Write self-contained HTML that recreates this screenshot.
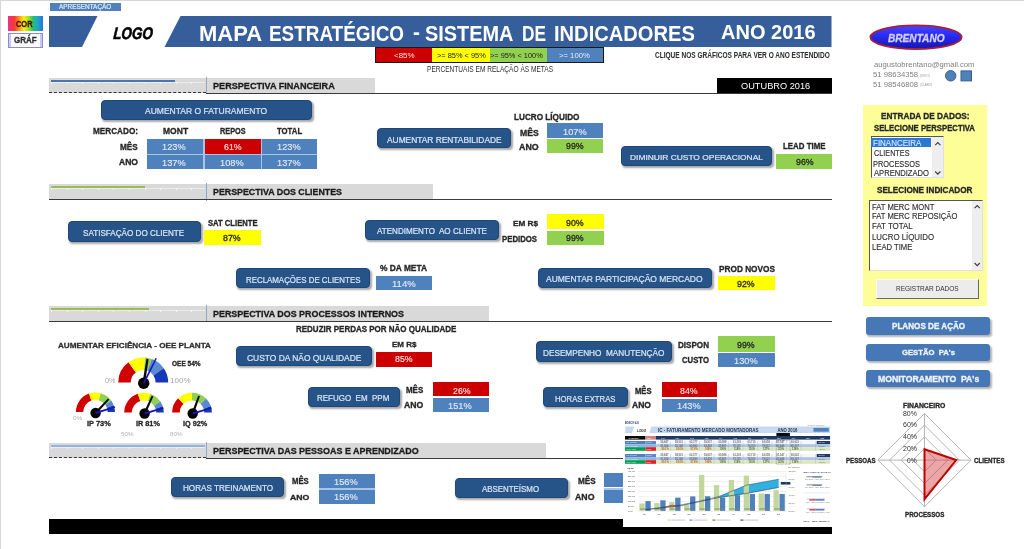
<!DOCTYPE html>
<html lang="pt"><head><meta charset="utf-8"><title>Mapa Estratégico - Sistema de Indicadores</title>
<style>
html,body{margin:0;padding:0;background:#fff;}
body{width:1024px;height:549px;overflow:hidden;position:relative;font-family:'Liberation Sans', Arial, sans-serif;filter:blur(0.3px);}
.a{position:absolute;}
.t{position:absolute;white-space:pre;line-height:1;transform-origin:0 0;font-family:'Liberation Sans', Arial, sans-serif;}
svg{position:absolute;overflow:visible;}
</style></head><body>
<div class="a" style="left:0.00px;top:0.00px;width:1024.00px;height:1.00px;background:#d6d6d6;"></div>
<div class="a" style="left:0.00px;top:0.00px;width:1.00px;height:549.00px;background:#d6d6d6;"></div>
<div class="a" style="left:50.00px;top:3.00px;width:71.00px;height:8.00px;background:#4f81bd;"></div>
<div class="t" style="left:59.25px;top:2.66px;font-size:7.41px;font-weight:normal;color:#e4ecf8;transform:scaleX(0.8664);-webkit-text-stroke:0.2px #e4ecf8;">APRESENTAÇÃO</div>
<div class="a" style="left:8px;top:16px;width:34.5px;height:14.5px;background:linear-gradient(90deg,#f0308a 0%,#f5392e 18%,#ff9a1a 33%,#ffee10 45%,#a6e020 58%,#25c070 72%,#1fa8c8 84%,#2a70e0 100%);"></div>
<div class="t" style="left:16.28px;top:21.03px;font-size:8.25px;font-weight:bold;color:#3a1600;transform:scaleX(0.8993);-webkit-text-stroke:0.3px #3a1600;">COR</div>
<div class="a" style="left:8px;top:33px;width:34.5px;height:14.5px;box-sizing:border-box;border:1px solid #8c8cc8;background:#fafaff;"></div>
<div class="a" style="left:9.00px;top:34.00px;width:2.00px;height:12.50px;background:#c8c8f0;"></div>
<div class="a" style="left:39.50px;top:34.00px;width:2.00px;height:12.50px;background:#c8c8f0;"></div>
<div class="t" style="left:13.76px;top:36.41px;font-size:8.39px;font-weight:bold;color:#303030;transform:scaleX(0.9537);-webkit-text-stroke:0.3px #303030;">GRÁF</div>
<svg width="1024" height="60" style="left:0;top:0"><polygon points="49,16 97.5,16 82,47 49,47" fill="#365e9a"/><polygon points="180.5,16 831.5,16 831.5,47 164.5,47" fill="#365e9a"/></svg>
<div class="t" style="left:113.74px;top:25.83px;font-size:16.78px;font-weight:bold;font-style:italic;color:#000;transform:scaleX(0.8009) skewX(-6.0deg);-webkit-text-stroke:0.6px #000;">LOGO</div>
<div class="t" style="left:198.97px;top:23.53px;font-size:21.40px;font-weight:bold;color:#ffffff;transform:scaleX(1.0265);">MAPA</div>
<div class="t" style="left:268.62px;top:23.53px;font-size:21.40px;font-weight:bold;color:#ffffff;transform:scaleX(0.8831);">ESTRATÉGICO</div>
<div class="t" style="left:424.99px;top:23.53px;font-size:21.40px;font-weight:bold;color:#ffffff;transform:scaleX(0.9306);">SISTEMA</div>
<div class="t" style="left:522.16px;top:23.53px;font-size:21.40px;font-weight:bold;color:#ffffff;transform:scaleX(0.8098);">DE</div>
<div class="t" style="left:554.07px;top:23.53px;font-size:21.40px;font-weight:bold;color:#ffffff;transform:scaleX(0.9402);">INDICADORES</div>
<div class="t" style="left:412.90px;top:22.09px;font-size:21.40px;font-weight:bold;color:#ffffff;transform:scaleX(0.9714);">-</div>
<div class="t" style="left:720.73px;top:23.47px;font-size:19.86px;font-weight:bold;color:#ffffff;transform:scaleX(1.0080);">ANO 2016</div>
<div class="a" style="left:375.00px;top:47.00px;width:229.00px;height:16.00px;background:#1a1a1a;"></div>
<div class="a" style="left:376.00px;top:48.00px;width:55.50px;height:14.00px;background:#cc0000;"></div>
<div class="a" style="left:431.50px;top:48.00px;width:58.50px;height:14.00px;background:#ffff00;"></div>
<div class="a" style="left:490.00px;top:48.00px;width:56.50px;height:14.00px;background:#92d050;"></div>
<div class="a" style="left:546.50px;top:48.00px;width:56.50px;height:14.00px;background:#4f81bd;"></div>
<div class="t" style="left:393.75px;top:52.12px;font-size:7.41px;font-weight:normal;color:#ffe0e0;transform:scaleX(1.0745);">&lt;85%</div>
<div class="t" style="left:436.67px;top:52.12px;font-size:7.41px;font-weight:normal;color:#202020;transform:scaleX(0.9992);">&gt;= 85% &lt; 95%</div>
<div class="t" style="left:490.20px;top:52.12px;font-size:7.41px;font-weight:normal;color:#202020;transform:scaleX(0.9959);">&gt;= 95% &lt; 100%</div>
<div class="t" style="left:558.66px;top:52.12px;font-size:7.41px;font-weight:normal;color:#e8eef8;transform:scaleX(1.0377);">&gt;= 100%</div>
<div class="t" style="left:426.75px;top:65.95px;font-size:8.25px;font-weight:normal;color:#303030;transform:scaleX(0.7958);">PERCENTUAIS EM RELAÇÃO ÀS METAS</div>
<div class="t" style="left:654.75px;top:50.67px;font-size:8.53px;font-weight:bold;color:#303030;transform:scaleX(0.7673);-webkit-text-stroke:0.05px #303030;">CLIQUE NOS GRÁFICOS PARA VER O ANO ESTENDIDO</div>
<svg width="110" height="40" style="left:860px;top:18px" viewBox="860 18 110 40"><defs><linearGradient id="eg" x1="0" y1="0" x2="0" y2="1"><stop offset="0" stop-color="#4646ff"/><stop offset="0.45" stop-color="#2a2af5"/><stop offset="1" stop-color="#1616a8"/></linearGradient></defs><ellipse cx="916" cy="37.2" rx="45.6" ry="11.8" fill="url(#eg)" stroke="#a8203a" stroke-width="1.8"/></svg>
<div class="t" style="left:887.76px;top:31.61px;font-size:11.61px;font-weight:bold;font-style:italic;color:#d0d0fa;transform:scaleX(0.8718);-webkit-text-stroke:0.3px #d0d0fa;">BRENTANO</div>
<div class="t" style="left:873.50px;top:60.53px;font-size:7.83px;font-weight:normal;color:#7f7f7f;transform:scaleX(0.9818);">augustobrentano@gmail.com</div>
<div class="t" style="left:872.76px;top:71.20px;font-size:7.41px;font-weight:normal;color:#7f7f7f;transform:scaleX(1.0436);">51 98634358</div>
<div class="t" style="left:919.60px;top:73.79px;font-size:4.06px;font-weight:normal;color:#9a9a9a;transform:scaleX(0.7912);">(VIVO)</div>
<div class="t" style="left:872.76px;top:80.70px;font-size:7.41px;font-weight:normal;color:#7f7f7f;transform:scaleX(1.0436);">51 98546808</div>
<div class="t" style="left:919.60px;top:83.29px;font-size:4.06px;font-weight:normal;color:#9a9a9a;transform:scaleX(0.7403);">(CLARO)</div>
<svg width="40" height="20" style="left:940px;top:68px" viewBox="940 68 40 20"><circle cx="950.7" cy="75.8" r="5.2" fill="#4f81bd" stroke="#385d8a" stroke-width="1"/><rect x="961" y="70.9" width="10.5" height="10" fill="#4f81bd" stroke="#385d8a" stroke-width="1"/></svg>
<div class="a" style="left:49.00px;top:78.00px;width:326.00px;height:15.00px;background:#d9d9d9;"></div>
<div class="a" style="left:51.00px;top:82.20px;width:154.00px;height:0.80px;background:#ececec;"></div>
<div class="a" style="left:51.00px;top:81.70px;width:0.80px;height:1.90px;background:#f4f4f4;"></div>
<div class="a" style="left:66.60px;top:81.70px;width:0.80px;height:1.90px;background:#f4f4f4;"></div>
<div class="a" style="left:82.20px;top:81.70px;width:0.80px;height:1.90px;background:#f4f4f4;"></div>
<div class="a" style="left:97.80px;top:81.70px;width:0.80px;height:1.90px;background:#f4f4f4;"></div>
<div class="a" style="left:113.40px;top:81.70px;width:0.80px;height:1.90px;background:#f4f4f4;"></div>
<div class="a" style="left:129.00px;top:81.70px;width:0.80px;height:1.90px;background:#f4f4f4;"></div>
<div class="a" style="left:144.60px;top:81.70px;width:0.80px;height:1.90px;background:#f4f4f4;"></div>
<div class="a" style="left:160.20px;top:81.70px;width:0.80px;height:1.90px;background:#f4f4f4;"></div>
<div class="a" style="left:175.80px;top:81.70px;width:0.80px;height:1.90px;background:#f4f4f4;"></div>
<div class="a" style="left:191.40px;top:81.70px;width:0.80px;height:1.90px;background:#f4f4f4;"></div>
<div class="a" style="left:50.50px;top:80.00px;width:124.00px;height:1.80px;background:#4a74b2;"></div>
<div class="a" style="left:206.00px;top:77.00px;width:1.00px;height:17.00px;background:#8fa8c6;"></div>
<div class="t" style="left:213.00px;top:81.49px;font-size:9.79px;font-weight:bold;color:#1a1a1a;transform:scaleX(0.9294);-webkit-text-stroke:0.3px #1a1a1a;">PERSPECTIVA FINANCEIRA</div>
<div class="a" style="left:49px;top:92.4px;width:157px;height:0;border-top:1.3px dashed #333;"></div>
<div class="a" style="left:206.00px;top:92.50px;width:626.00px;height:1.00px;background:#3a3a3a;"></div>
<div class="a" style="left:49.00px;top:184.00px;width:383.50px;height:15.50px;background:#d9d9d9;"></div>
<div class="a" style="left:51.00px;top:188.20px;width:154.00px;height:0.80px;background:#ececec;"></div>
<div class="a" style="left:51.00px;top:187.70px;width:0.80px;height:1.90px;background:#f4f4f4;"></div>
<div class="a" style="left:66.60px;top:187.70px;width:0.80px;height:1.90px;background:#f4f4f4;"></div>
<div class="a" style="left:82.20px;top:187.70px;width:0.80px;height:1.90px;background:#f4f4f4;"></div>
<div class="a" style="left:97.80px;top:187.70px;width:0.80px;height:1.90px;background:#f4f4f4;"></div>
<div class="a" style="left:113.40px;top:187.70px;width:0.80px;height:1.90px;background:#f4f4f4;"></div>
<div class="a" style="left:129.00px;top:187.70px;width:0.80px;height:1.90px;background:#f4f4f4;"></div>
<div class="a" style="left:144.60px;top:187.70px;width:0.80px;height:1.90px;background:#f4f4f4;"></div>
<div class="a" style="left:160.20px;top:187.70px;width:0.80px;height:1.90px;background:#f4f4f4;"></div>
<div class="a" style="left:175.80px;top:187.70px;width:0.80px;height:1.90px;background:#f4f4f4;"></div>
<div class="a" style="left:191.40px;top:187.70px;width:0.80px;height:1.90px;background:#f4f4f4;"></div>
<div class="a" style="left:50.50px;top:186.00px;width:94.00px;height:1.80px;background:#9bbb59;"></div>
<div class="a" style="left:206.00px;top:183.00px;width:1.00px;height:17.50px;background:#8fa8c6;"></div>
<div class="t" style="left:213.00px;top:187.29px;font-size:9.51px;font-weight:bold;color:#1a1a1a;transform:scaleX(0.9292);-webkit-text-stroke:0.3px #1a1a1a;">PERSPECTIVA DOS CLIENTES</div>
<div class="a" style="left:49.00px;top:199.00px;width:783.00px;height:1.00px;background:#3a3a3a;"></div>
<div class="a" style="left:49.00px;top:306.00px;width:440.40px;height:15.00px;background:#d9d9d9;"></div>
<div class="a" style="left:51.00px;top:310.20px;width:154.00px;height:0.80px;background:#ececec;"></div>
<div class="a" style="left:51.00px;top:309.70px;width:0.80px;height:1.90px;background:#f4f4f4;"></div>
<div class="a" style="left:66.60px;top:309.70px;width:0.80px;height:1.90px;background:#f4f4f4;"></div>
<div class="a" style="left:82.20px;top:309.70px;width:0.80px;height:1.90px;background:#f4f4f4;"></div>
<div class="a" style="left:97.80px;top:309.70px;width:0.80px;height:1.90px;background:#f4f4f4;"></div>
<div class="a" style="left:113.40px;top:309.70px;width:0.80px;height:1.90px;background:#f4f4f4;"></div>
<div class="a" style="left:129.00px;top:309.70px;width:0.80px;height:1.90px;background:#f4f4f4;"></div>
<div class="a" style="left:144.60px;top:309.70px;width:0.80px;height:1.90px;background:#f4f4f4;"></div>
<div class="a" style="left:160.20px;top:309.70px;width:0.80px;height:1.90px;background:#f4f4f4;"></div>
<div class="a" style="left:175.80px;top:309.70px;width:0.80px;height:1.90px;background:#f4f4f4;"></div>
<div class="a" style="left:191.40px;top:309.70px;width:0.80px;height:1.90px;background:#f4f4f4;"></div>
<div class="a" style="left:50.50px;top:308.00px;width:98.00px;height:1.80px;background:#9bbb59;"></div>
<div class="a" style="left:206.00px;top:305.00px;width:1.00px;height:17.00px;background:#8fa8c6;"></div>
<div class="t" style="left:213.00px;top:309.25px;font-size:9.51px;font-weight:bold;color:#1a1a1a;transform:scaleX(0.9373);-webkit-text-stroke:0.3px #1a1a1a;">PERSPECTIVA DOS PROCESSOS INTERNOS</div>
<div class="a" style="left:49.00px;top:320.50px;width:783.00px;height:1.00px;background:#3a3a3a;"></div>
<div class="a" style="left:49.00px;top:443.20px;width:497.30px;height:14.80px;background:#d9d9d9;"></div>
<div class="a" style="left:51.00px;top:447.40px;width:154.00px;height:0.80px;background:#ececec;"></div>
<div class="a" style="left:51.00px;top:446.90px;width:0.80px;height:1.90px;background:#f4f4f4;"></div>
<div class="a" style="left:66.60px;top:446.90px;width:0.80px;height:1.90px;background:#f4f4f4;"></div>
<div class="a" style="left:82.20px;top:446.90px;width:0.80px;height:1.90px;background:#f4f4f4;"></div>
<div class="a" style="left:97.80px;top:446.90px;width:0.80px;height:1.90px;background:#f4f4f4;"></div>
<div class="a" style="left:113.40px;top:446.90px;width:0.80px;height:1.90px;background:#f4f4f4;"></div>
<div class="a" style="left:129.00px;top:446.90px;width:0.80px;height:1.90px;background:#f4f4f4;"></div>
<div class="a" style="left:144.60px;top:446.90px;width:0.80px;height:1.90px;background:#f4f4f4;"></div>
<div class="a" style="left:160.20px;top:446.90px;width:0.80px;height:1.90px;background:#f4f4f4;"></div>
<div class="a" style="left:175.80px;top:446.90px;width:0.80px;height:1.90px;background:#f4f4f4;"></div>
<div class="a" style="left:191.40px;top:446.90px;width:0.80px;height:1.90px;background:#f4f4f4;"></div>
<div class="a" style="left:50.50px;top:445.20px;width:154.00px;height:1.80px;background:#8eb4e3;"></div>
<div class="a" style="left:206.00px;top:442.20px;width:1.00px;height:16.80px;background:#8fa8c6;"></div>
<div class="t" style="left:213.00px;top:446.25px;font-size:9.51px;font-weight:bold;color:#1a1a1a;transform:scaleX(0.9428);-webkit-text-stroke:0.3px #1a1a1a;">PERSPECTIVA DAS PESSOAS E APRENDIZADO</div>
<div class="a" style="left:49px;top:457.4px;width:157px;height:0;border-top:1.3px dashed #333;"></div>
<div class="a" style="left:206.00px;top:457.50px;width:626.00px;height:1.00px;background:#3a3a3a;"></div>
<div class="a" style="left:717.00px;top:78.00px;width:114.50px;height:15.00px;background:#000;"></div>
<div class="t" style="left:741.25px;top:82.46px;font-size:9.37px;font-weight:normal;color:#ffffff;transform:scaleX(0.9855);">OUTUBRO 2016</div>
<div class="a" style="left:100.8px;top:99.8px;width:211.2px;height:20.700000000000003px;background:#265488;border-radius:4px;box-sizing:border-box;border:1px solid #1f4778;box-shadow:1.5px 2px 2px rgba(0,0,0,0.35);"></div>
<div class="t" style="left:145.25px;top:107.23px;font-size:9.09px;font-weight:normal;color:#d8e4f3;transform:scaleX(0.9380);-webkit-text-stroke:0.22px #d8e4f3;">AUMENTAR O FATURAMENTO</div>
<div class="t" style="left:93.25px;top:127.27px;font-size:9.09px;font-weight:bold;color:#262626;transform:scaleX(0.9018);-webkit-text-stroke:0.3px #262626;">MERCADO:</div>
<div class="t" style="left:162.74px;top:127.31px;font-size:9.09px;font-weight:bold;color:#262626;transform:scaleX(0.9388);-webkit-text-stroke:0.3px #262626;">MONT</div>
<div class="t" style="left:219.75px;top:127.23px;font-size:9.09px;font-weight:bold;color:#262626;transform:scaleX(0.8044);-webkit-text-stroke:0.3px #262626;">REPOS</div>
<div class="t" style="left:277.25px;top:127.23px;font-size:9.09px;font-weight:bold;color:#262626;transform:scaleX(0.8539);-webkit-text-stroke:0.3px #262626;">TOTAL</div>
<div class="t" style="left:120.24px;top:142.59px;font-size:8.53px;font-weight:bold;color:#262626;transform:scaleX(0.9607);-webkit-text-stroke:0.3px #262626;">MÊS</div>
<div class="t" style="left:118.71px;top:159.03px;font-size:8.25px;font-weight:bold;color:#262626;transform:scaleX(1.0340);-webkit-text-stroke:0.3px #262626;">ANO</div>
<div class="a" style="left:146.50px;top:138.70px;width:170.80px;height:30.00px;background:#a9c4e6;"></div>
<div class="a" style="left:146.50px;top:138.70px;width:56.70px;height:15.30px;background:#4f81bd;"></div>
<div class="t" style="left:162.15px;top:143.09px;font-size:8.53px;font-weight:normal;color:#e4ecf7;transform:scaleX(1.0863);-webkit-text-stroke:0.12px #e4ecf7;">123%</div>
<div class="a" style="left:204.50px;top:138.70px;width:56.30px;height:15.30px;background:#cc0000;"></div>
<div class="t" style="left:224.23px;top:143.09px;font-size:8.53px;font-weight:normal;color:#ffe6e6;transform:scaleX(1.0322);-webkit-text-stroke:0.12px #ffe6e6;">61%</div>
<div class="a" style="left:262.00px;top:138.70px;width:55.30px;height:15.30px;background:#4f81bd;"></div>
<div class="t" style="left:277.19px;top:143.09px;font-size:8.53px;font-weight:normal;color:#e4ecf7;transform:scaleX(1.0863);-webkit-text-stroke:0.12px #e4ecf7;">123%</div>
<div class="a" style="left:146.50px;top:155.00px;width:56.70px;height:13.70px;background:#4f81bd;"></div>
<div class="t" style="left:162.15px;top:158.59px;font-size:8.53px;font-weight:normal;color:#e4ecf7;transform:scaleX(1.0863);-webkit-text-stroke:0.12px #e4ecf7;">137%</div>
<div class="a" style="left:204.50px;top:155.00px;width:56.30px;height:13.70px;background:#4f81bd;"></div>
<div class="t" style="left:220.19px;top:158.59px;font-size:8.53px;font-weight:normal;color:#e4ecf7;transform:scaleX(1.0863);-webkit-text-stroke:0.12px #e4ecf7;">108%</div>
<div class="a" style="left:262.00px;top:155.00px;width:55.30px;height:13.70px;background:#4f81bd;"></div>
<div class="t" style="left:277.19px;top:158.59px;font-size:8.53px;font-weight:normal;color:#e4ecf7;transform:scaleX(1.0863);-webkit-text-stroke:0.12px #e4ecf7;">137%</div>
<div class="a" style="left:377.3px;top:128px;width:133.7px;height:19.599999999999994px;background:#265488;border-radius:4px;box-sizing:border-box;border:1px solid #1f4778;box-shadow:1.5px 2px 2px rgba(0,0,0,0.35);"></div>
<div class="t" style="left:386.75px;top:135.83px;font-size:8.39px;font-weight:normal;color:#d8e4f3;transform:scaleX(0.9997);-webkit-text-stroke:0.22px #d8e4f3;">AUMENTAR RENTABILIDADE</div>
<div class="t" style="left:514.49px;top:113.78px;font-size:8.25px;font-weight:bold;color:#262626;transform:scaleX(0.9915);-webkit-text-stroke:0.3px #262626;">LUCRO LÍQUIDO</div>
<div class="t" style="left:519.76px;top:128.51px;font-size:8.53px;font-weight:bold;color:#262626;transform:scaleX(1.0133);-webkit-text-stroke:0.3px #262626;">MÊS</div>
<div class="t" style="left:518.73px;top:142.63px;font-size:8.53px;font-weight:bold;color:#262626;transform:scaleX(1.0374);-webkit-text-stroke:0.3px #262626;">ANO</div>
<div class="a" style="left:547.00px;top:123.40px;width:56.00px;height:14.60px;background:#4f81bd;"></div>
<div class="t" style="left:562.90px;top:127.76px;font-size:8.53px;font-weight:normal;color:#e4ecf7;transform:scaleX(1.0863);-webkit-text-stroke:0.12px #e4ecf7;">107%</div>
<div class="a" style="left:547.00px;top:138.90px;width:56.00px;height:14.60px;background:#92d050;"></div>
<div class="t" style="left:565.99px;top:142.46px;font-size:8.53px;font-weight:normal;color:#262626;transform:scaleX(1.0322);-webkit-text-stroke:0.3px #262626;">99%</div>
<div class="a" style="left:621.2px;top:146.2px;width:150.5px;height:20.200000000000017px;background:#265488;border-radius:4px;box-sizing:border-box;border:1px solid #1f4778;box-shadow:1.5px 2px 2px rgba(0,0,0,0.35);"></div>
<div class="t" style="left:630.24px;top:153.87px;font-size:7.97px;font-weight:normal;color:#d8e4f3;transform:scaleX(1.0549);-webkit-text-stroke:0.22px #d8e4f3;">DIMINUIR CUSTO OPERACIONAL</div>
<div class="t" style="left:782.50px;top:143.36px;font-size:8.25px;font-weight:bold;color:#262626;transform:scaleX(0.9565);-webkit-text-stroke:0.3px #262626;">LEAD TIME</div>
<div class="a" style="left:775.80px;top:154.00px;width:56.20px;height:14.70px;background:#92d050;"></div>
<div class="t" style="left:795.50px;top:158.09px;font-size:8.53px;font-weight:normal;color:#262626;transform:scaleX(1.0322);-webkit-text-stroke:0.3px #262626;">96%</div>
<div class="a" style="left:67.5px;top:221.2px;width:133.9px;height:20.600000000000023px;background:#265488;border-radius:4px;box-sizing:border-box;border:1px solid #1f4778;box-shadow:1.5px 2px 2px rgba(0,0,0,0.35);"></div>
<div class="t" style="left:82.74px;top:228.67px;font-size:8.53px;font-weight:normal;color:#d8e4f3;transform:scaleX(0.9522);-webkit-text-stroke:0.22px #d8e4f3;">SATISFAÇÃO DO CLIENTE</div>
<div class="t" style="left:208.00px;top:219.78px;font-size:8.25px;font-weight:bold;color:#262626;transform:scaleX(0.9266);-webkit-text-stroke:0.3px #262626;">SAT CLIENTE</div>
<div class="a" style="left:203.50px;top:229.80px;width:57.40px;height:14.90px;background:#ffff00;"></div>
<div class="t" style="left:223.03px;top:233.67px;font-size:8.53px;font-weight:normal;color:#262626;transform:scaleX(1.0322);-webkit-text-stroke:0.3px #262626;">87%</div>
<div class="a" style="left:365.4px;top:219.8px;width:133.8px;height:20.69999999999999px;background:#265488;border-radius:4px;box-sizing:border-box;border:1px solid #1f4778;box-shadow:1.5px 2px 2px rgba(0,0,0,0.35);"></div>
<div class="t" style="left:376.75px;top:227.45px;font-size:8.81px;font-weight:normal;color:#d8e4f3;transform:scaleX(0.9168);-webkit-text-stroke:0.22px #d8e4f3;">ATENDIMENTO  AO CLIENTE</div>
<div class="t" style="left:512.52px;top:219.68px;font-size:8.11px;font-weight:bold;color:#262626;transform:scaleX(1.0105);-webkit-text-stroke:0.3px #262626;">EM R$</div>
<div class="t" style="left:502.49px;top:235.66px;font-size:8.25px;font-weight:bold;color:#262626;transform:scaleX(0.9439);-webkit-text-stroke:0.3px #262626;">PEDIDOS</div>
<div class="a" style="left:546.80px;top:214.40px;width:56.90px;height:15.10px;background:#ffff00;"></div>
<div class="t" style="left:566.28px;top:219.01px;font-size:8.53px;font-weight:normal;color:#262626;transform:scaleX(1.0322);-webkit-text-stroke:0.3px #262626;">90%</div>
<div class="a" style="left:546.80px;top:230.80px;width:56.90px;height:13.90px;background:#92d050;"></div>
<div class="t" style="left:566.28px;top:234.17px;font-size:8.53px;font-weight:normal;color:#262626;transform:scaleX(1.0322);-webkit-text-stroke:0.3px #262626;">99%</div>
<div class="a" style="left:236.4px;top:268.3px;width:133.20000000000002px;height:20.0px;background:#265488;border-radius:4px;box-sizing:border-box;border:1px solid #1f4778;box-shadow:1.5px 2px 2px rgba(0,0,0,0.35);"></div>
<div class="t" style="left:245.74px;top:275.83px;font-size:8.81px;font-weight:normal;color:#d8e4f3;transform:scaleX(0.8967);-webkit-text-stroke:0.22px #d8e4f3;">RECLAMAÇÕES DE CLIENTES</div>
<div class="t" style="left:380.00px;top:264.48px;font-size:8.67px;font-weight:bold;color:#262626;transform:scaleX(0.9677);-webkit-text-stroke:0.3px #262626;">% DA META</div>
<div class="a" style="left:375.60px;top:275.80px;width:56.40px;height:14.60px;background:#4f81bd;"></div>
<div class="t" style="left:391.91px;top:279.84px;font-size:8.53px;font-weight:normal;color:#e4ecf7;transform:scaleX(1.1181);-webkit-text-stroke:0.12px #e4ecf7;">114%</div>
<div class="a" style="left:537.6px;top:268.2px;width:174.0px;height:19.80000000000001px;background:#265488;border-radius:4px;box-sizing:border-box;border:1px solid #1f4778;box-shadow:1.5px 2px 2px rgba(0,0,0,0.35);"></div>
<div class="t" style="left:546.25px;top:275.27px;font-size:9.09px;font-weight:normal;color:#d8e4f3;transform:scaleX(0.9331);-webkit-text-stroke:0.22px #d8e4f3;">AUMENTAR PARTICIPAÇÃO MERCADO</div>
<div class="t" style="left:718.99px;top:264.80px;font-size:8.95px;font-weight:bold;color:#262626;transform:scaleX(0.9238);-webkit-text-stroke:0.3px #262626;">PROD NOVOS</div>
<div class="a" style="left:718.00px;top:275.80px;width:57.00px;height:14.70px;background:#ffff00;"></div>
<div class="t" style="left:737.49px;top:280.05px;font-size:8.53px;font-weight:normal;color:#262626;transform:scaleX(1.0322);-webkit-text-stroke:0.3px #262626;">92%</div>
<div class="t" style="left:295.75px;top:325.35px;font-size:8.67px;font-weight:bold;color:#262626;transform:scaleX(0.9233);-webkit-text-stroke:0.3px #262626;">REDUZIR PERDAS POR NÃO QUALIDADE</div>
<div class="t" style="left:58.25px;top:341.79px;font-size:7.97px;font-weight:bold;color:#303030;transform:scaleX(1.0202);-webkit-text-stroke:0.3px #303030;">AUMENTAR EFICIÊNCIA - OEE PLANTA</div>
<div class="a" style="left:236px;top:346.1px;width:136.2px;height:20.399999999999977px;background:#265488;border-radius:4px;box-sizing:border-box;border:1px solid #1f4778;box-shadow:1.5px 2px 2px rgba(0,0,0,0.35);"></div>
<div class="t" style="left:246.75px;top:353.87px;font-size:8.81px;font-weight:normal;color:#d8e4f3;transform:scaleX(0.9567);-webkit-text-stroke:0.22px #d8e4f3;">CUSTO DA NÃO QUALIDADE</div>
<div class="t" style="left:391.51px;top:340.80px;font-size:8.11px;font-weight:bold;color:#262626;transform:scaleX(0.9902);-webkit-text-stroke:0.3px #262626;">EM R$</div>
<div class="a" style="left:376.00px;top:351.50px;width:56.00px;height:15.00px;background:#cc0000;"></div>
<div class="t" style="left:394.99px;top:355.42px;font-size:8.53px;font-weight:normal;color:#ffe6e6;transform:scaleX(1.0322);-webkit-text-stroke:0.12px #ffe6e6;">85%</div>
<div class="a" style="left:307.8px;top:387.1px;width:92.19999999999999px;height:20.099999999999966px;background:#265488;border-radius:4px;box-sizing:border-box;border:1px solid #1f4778;box-shadow:1.5px 2px 2px rgba(0,0,0,0.35);"></div>
<div class="t" style="left:317.23px;top:394.49px;font-size:8.81px;font-weight:normal;color:#d8e4f3;transform:scaleX(0.9077);-webkit-text-stroke:0.22px #d8e4f3;">REFUGO  EM  PPM</div>
<div class="t" style="left:406.00px;top:386.34px;font-size:8.53px;font-weight:bold;color:#262626;transform:scaleX(0.9325);-webkit-text-stroke:0.3px #262626;">MÊS</div>
<div class="t" style="left:404.00px;top:401.48px;font-size:8.67px;font-weight:bold;color:#262626;transform:scaleX(1.0009);-webkit-text-stroke:0.3px #262626;">ANO</div>
<div class="a" style="left:432.80px;top:382.40px;width:56.20px;height:14.10px;background:#cc0000;"></div>
<div class="t" style="left:452.50px;top:386.51px;font-size:8.53px;font-weight:normal;color:#ffe6e6;transform:scaleX(1.0322);-webkit-text-stroke:0.12px #ffe6e6;">26%</div>
<div class="a" style="left:432.80px;top:398.00px;width:56.20px;height:13.70px;background:#4f81bd;"></div>
<div class="t" style="left:448.40px;top:401.59px;font-size:8.53px;font-weight:normal;color:#e4ecf7;transform:scaleX(1.0863);-webkit-text-stroke:0.12px #e4ecf7;">151%</div>
<div class="a" style="left:535.6px;top:341.4px;width:136.60000000000002px;height:21.100000000000023px;background:#265488;border-radius:4px;box-sizing:border-box;border:1px solid #1f4778;box-shadow:1.5px 2px 2px rgba(0,0,0,0.35);"></div>
<div class="t" style="left:542.75px;top:348.99px;font-size:8.81px;font-weight:normal;color:#d8e4f3;transform:scaleX(0.9335);-webkit-text-stroke:0.22px #d8e4f3;">DESEMPENHO  MANUTENÇÃO</div>
<div class="t" style="left:678.01px;top:341.78px;font-size:8.25px;font-weight:bold;color:#262626;transform:scaleX(0.9792);-webkit-text-stroke:0.3px #262626;">DISPON</div>
<div class="t" style="left:682.00px;top:356.08px;font-size:8.81px;font-weight:bold;color:#262626;transform:scaleX(0.8777);-webkit-text-stroke:0.3px #262626;">CUSTO</div>
<div class="a" style="left:718.00px;top:336.30px;width:57.00px;height:15.30px;background:#92d050;"></div>
<div class="t" style="left:737.49px;top:341.01px;font-size:8.53px;font-weight:normal;color:#262626;transform:scaleX(1.0322);-webkit-text-stroke:0.3px #262626;">99%</div>
<div class="a" style="left:718.00px;top:352.90px;width:57.00px;height:13.90px;background:#4f81bd;"></div>
<div class="t" style="left:734.44px;top:356.59px;font-size:8.53px;font-weight:normal;color:#e4ecf7;transform:scaleX(1.0863);-webkit-text-stroke:0.12px #e4ecf7;">130%</div>
<div class="a" style="left:542.7px;top:387.1px;width:85.09999999999991px;height:20.399999999999977px;background:#265488;border-radius:4px;box-sizing:border-box;border:1px solid #1f4778;box-shadow:1.5px 2px 2px rgba(0,0,0,0.35);"></div>
<div class="t" style="left:554.72px;top:394.53px;font-size:8.81px;font-weight:normal;color:#d8e4f3;transform:scaleX(0.8766);-webkit-text-stroke:0.22px #d8e4f3;">HORAS EXTRAS</div>
<div class="t" style="left:634.50px;top:387.70px;font-size:8.25px;font-weight:bold;color:#262626;transform:scaleX(0.9252);-webkit-text-stroke:0.3px #262626;">MÊS</div>
<div class="t" style="left:632.49px;top:402.32px;font-size:8.25px;font-weight:bold;color:#262626;transform:scaleX(1.0320);-webkit-text-stroke:0.3px #262626;">ANO</div>
<div class="a" style="left:661.50px;top:382.00px;width:55.90px;height:15.30px;background:#cc0000;"></div>
<div class="t" style="left:680.24px;top:386.55px;font-size:8.53px;font-weight:normal;color:#ffe6e6;transform:scaleX(1.0322);-webkit-text-stroke:0.12px #ffe6e6;">84%</div>
<div class="a" style="left:661.50px;top:398.60px;width:55.90px;height:13.90px;background:#4f81bd;"></div>
<div class="t" style="left:677.21px;top:402.13px;font-size:8.53px;font-weight:normal;color:#e4ecf7;transform:scaleX(1.0863);-webkit-text-stroke:0.12px #e4ecf7;">143%</div>
<svg width="200" height="100" style="left:50px;top:350px" viewBox="50 350 200 100"><path d="M118.20,382.50 A25,25 0 0 1 128.51,362.27 L135.91,372.47 A12.4,12.4 0 0 0 130.80,382.50 Z" fill="#d00000"/><path d="M128.51,362.27 A25,25 0 0 1 144.94,357.56 L144.06,370.13 A12.4,12.4 0 0 0 135.91,372.47 Z" fill="#ffff00"/><path d="M144.94,357.56 A25,25 0 0 1 151.75,359.01 L147.44,370.85 A12.4,12.4 0 0 0 144.06,370.13 Z" fill="#92d050"/><path d="M151.75,359.01 A25,25 0 0 1 163.68,368.16 L153.36,375.39 A12.4,12.4 0 0 0 147.44,370.85 Z" fill="#5a8ad0"/><path d="M163.68,368.16 A25,25 0 0 1 168.20,382.50 L155.60,382.50 A12.4,12.4 0 0 0 153.36,375.39 Z" fill="#1538b8"/><polygon points="144.98,383.50 148.58,359.17 146.52,358.84 142.42,383.10" fill="#0a0a0a"/><circle cx="143.70" cy="383.30" r="5.7" fill="#050505"/><polygon points="144.55,383.72 156.86,358.58 155.52,357.91 142.85,382.88" fill="#1818b0"/><path d="M75.90,412.00 A19.5,19.5 0 0 1 89.05,393.56 L91.43,400.46 A12.2,12.2 0 0 0 83.20,412.00 Z" fill="#d00000"/><path d="M89.05,393.56 A19.5,19.5 0 0 1 100.77,393.26 L98.76,400.27 A12.2,12.2 0 0 0 91.43,400.46 Z" fill="#ffff00"/><path d="M100.77,393.26 A19.5,19.5 0 0 1 111.18,400.54 L105.27,404.83 A12.2,12.2 0 0 0 98.76,400.27 Z" fill="#92d050"/><path d="M111.18,400.54 A19.5,19.5 0 0 1 113.72,405.33 L106.86,407.83 A12.2,12.2 0 0 0 105.27,404.83 Z" fill="#5a8ad0"/><path d="M113.72,405.33 A19.5,19.5 0 0 1 114.90,412.00 L107.60,412.00 A12.2,12.2 0 0 0 106.86,407.83 Z" fill="#1538b8"/><polygon points="96.48,413.82 109.33,399.69 107.92,398.38 94.72,412.18" fill="#0a0a0a"/><circle cx="95.60" cy="413.00" r="5.2" fill="#050505"/><polygon points="95.88,413.91 115.23,407.78 114.79,406.35 95.32,412.09" fill="#1818b0"/><path d="M124.20,412.60 A19.8,19.8 0 0 1 137.88,393.77 L140.23,401.00 A12.2,12.2 0 0 0 131.80,412.60 Z" fill="#d00000"/><path d="M137.88,393.77 A19.8,19.8 0 0 1 150.45,393.88 L147.97,401.06 A12.2,12.2 0 0 0 140.23,401.00 Z" fill="#ffff00"/><path d="M150.45,393.88 A19.8,19.8 0 0 1 160.41,401.53 L154.11,405.78 A12.2,12.2 0 0 0 147.97,401.06 Z" fill="#92d050"/><path d="M160.41,401.53 A19.8,19.8 0 0 1 162.72,406.15 L155.54,408.63 A12.2,12.2 0 0 0 154.11,405.78 Z" fill="#5a8ad0"/><path d="M162.72,406.15 A19.8,19.8 0 0 1 163.80,412.60 L156.20,412.60 A12.2,12.2 0 0 0 155.54,408.63 Z" fill="#1538b8"/><polygon points="145.69,414.00 153.35,396.61 151.61,395.81 143.51,413.00" fill="#0a0a0a"/><circle cx="144.60" cy="413.50" r="5.2" fill="#050505"/><polygon points="144.87,414.41 163.61,408.65 163.18,407.21 144.33,412.59" fill="#1818b0"/><path d="M172.10,412.60 A19.9,19.9 0 0 1 178.18,398.29 L183.53,403.82 A12.2,12.2 0 0 0 179.80,412.60 Z" fill="#d00000"/><path d="M178.18,398.29 A19.9,19.9 0 0 1 192.00,392.70 L192.00,400.40 A12.2,12.2 0 0 0 183.53,403.82 Z" fill="#ffff00"/><path d="M192.00,392.70 A19.9,19.9 0 0 1 206.07,398.53 L200.63,403.97 A12.2,12.2 0 0 0 192.00,400.40 Z" fill="#92d050"/><path d="M206.07,398.53 A19.9,19.9 0 0 1 210.82,406.12 L203.54,408.63 A12.2,12.2 0 0 0 200.63,403.97 Z" fill="#5a8ad0"/><path d="M210.82,406.12 A19.9,19.9 0 0 1 211.90,412.60 L204.20,412.60 A12.2,12.2 0 0 0 203.54,408.63 Z" fill="#1538b8"/><polygon points="193.83,413.91 199.96,396.35 198.16,395.69 191.57,413.09" fill="#0a0a0a"/><circle cx="192.70" cy="413.50" r="5.2" fill="#050505"/><polygon points="192.97,414.41 211.61,408.68 211.18,407.24 192.43,412.59" fill="#1818b0"/></svg>
<div class="t" style="left:104.76px;top:377.70px;font-size:6.43px;font-weight:normal;color:#a6a6a6;transform:scaleX(1.1224);">0%</div>
<div class="t" style="left:170.17px;top:377.74px;font-size:6.43px;font-weight:normal;color:#a6a6a6;transform:scaleX(1.2650);">100%</div>
<div class="t" style="left:172.25px;top:361.28px;font-size:6.85px;font-weight:bold;color:#262626;transform:scaleX(0.9517);-webkit-text-stroke:0.3px #262626;">OEE 54%</div>
<div class="t" style="left:72.54px;top:415.95px;font-size:5.45px;font-weight:normal;color:#b0b0b0;transform:scaleX(1.1599);">0%</div>
<div class="t" style="left:87.25px;top:419.52px;font-size:7.69px;font-weight:bold;color:#262626;transform:scaleX(0.9630);-webkit-text-stroke:0.3px #262626;">IP 73%</div>
<div class="t" style="left:135.73px;top:419.60px;font-size:7.69px;font-weight:bold;color:#262626;transform:scaleX(0.9469);-webkit-text-stroke:0.3px #262626;">IR 81%</div>
<div class="t" style="left:182.76px;top:419.60px;font-size:7.69px;font-weight:bold;color:#262626;transform:scaleX(0.9502);-webkit-text-stroke:0.3px #262626;">IQ 92%</div>
<div class="t" style="left:120.78px;top:431.57px;font-size:5.45px;font-weight:normal;color:#b0b0b0;transform:scaleX(1.1389);">50%</div>
<div class="t" style="left:169.60px;top:431.57px;font-size:5.45px;font-weight:normal;color:#b0b0b0;transform:scaleX(1.1564);">80%</div>
<div class="a" style="left:171.4px;top:477.2px;width:112.99999999999997px;height:20.30000000000001px;background:#265488;border-radius:4px;box-sizing:border-box;border:1px solid #1f4778;box-shadow:1.5px 2px 2px rgba(0,0,0,0.35);"></div>
<div class="t" style="left:182.72px;top:484.17px;font-size:8.53px;font-weight:normal;color:#d8e4f3;transform:scaleX(0.9546);-webkit-text-stroke:0.22px #d8e4f3;">HORAS TREINAMENTO</div>
<div class="t" style="left:292.00px;top:477.38px;font-size:8.53px;font-weight:bold;color:#262626;transform:scaleX(0.9055);-webkit-text-stroke:0.3px #262626;">MÊS</div>
<div class="t" style="left:289.75px;top:493.55px;font-size:8.11px;font-weight:bold;color:#262626;transform:scaleX(1.0727);-webkit-text-stroke:0.3px #262626;">ANO</div>
<div class="a" style="left:318.70px;top:473.90px;width:55.90px;height:14.00px;background:#4f81bd;"></div>
<div class="t" style="left:334.19px;top:477.80px;font-size:8.53px;font-weight:normal;color:#e4ecf7;transform:scaleX(1.0863);-webkit-text-stroke:0.12px #e4ecf7;">156%</div>
<div class="a" style="left:318.70px;top:487.90px;width:55.90px;height:2.00px;background:#a9c4e6;"></div>
<div class="a" style="left:318.70px;top:489.90px;width:55.90px;height:13.70px;background:#4f81bd;"></div>
<div class="t" style="left:334.19px;top:493.17px;font-size:8.53px;font-weight:normal;color:#e4ecf7;transform:scaleX(1.0863);-webkit-text-stroke:0.12px #e4ecf7;">156%</div>
<div class="a" style="left:454.6px;top:477.6px;width:113.19999999999993px;height:20.599999999999966px;background:#265488;border-radius:4px;box-sizing:border-box;border:1px solid #1f4778;box-shadow:1.5px 2px 2px rgba(0,0,0,0.35);"></div>
<div class="t" style="left:482.24px;top:485.45px;font-size:8.39px;font-weight:normal;color:#d8e4f3;transform:scaleX(0.9432);-webkit-text-stroke:0.22px #d8e4f3;">ABSENTEÍSMO</div>
<div class="t" style="left:577.50px;top:477.38px;font-size:8.53px;font-weight:bold;color:#262626;transform:scaleX(0.9601);-webkit-text-stroke:0.3px #262626;">MÊS</div>
<div class="t" style="left:575.25px;top:492.63px;font-size:8.95px;font-weight:bold;color:#262626;transform:scaleX(0.9797);-webkit-text-stroke:0.3px #262626;">ANO</div>
<div class="a" style="left:604.30px;top:473.30px;width:35.70px;height:14.20px;background:#4f81bd;"></div>
<div class="a" style="left:604.30px;top:487.50px;width:35.70px;height:2.10px;background:#a9c4e6;"></div>
<div class="a" style="left:604.30px;top:489.60px;width:35.70px;height:13.80px;background:#4f81bd;"></div>
<div class="a" style="left:49.00px;top:519.00px;width:782.50px;height:15.00px;background:#000;"></div>
<div class="a" style="left:863.20px;top:105.10px;width:123.80px;height:200.90px;background:#fefe98;"></div>
<div class="t" style="left:881.00px;top:111.56px;font-size:8.67px;font-weight:bold;color:#262626;transform:scaleX(0.9529);-webkit-text-stroke:0.3px #262626;">ENTRADA DE DADOS:</div>
<div class="t" style="left:874.00px;top:125.20px;font-size:8.25px;font-weight:bold;color:#262626;transform:scaleX(0.9385);-webkit-text-stroke:0.3px #262626;">SELECIONE PERSPECTIVA</div>
<div class="a" style="left:870.5px;top:136.4px;width:73.3px;height:41.9px;background:#fff;box-sizing:border-box;border-top:1px solid #555;border-left:1px solid #555;border-right:1px solid #e0e0e0;border-bottom:1px solid #e0e0e0"></div>
<div class="a" style="left:932.00px;top:137.40px;width:11.00px;height:39.90px;background:#eeeeee;"></div>
<div class="a" style="left:870.90px;top:137.80px;width:60.00px;height:9.60px;background:#2a78d4;"></div>
<div class="t" style="left:872.96px;top:139.02px;font-size:8.67px;font-weight:normal;color:#d8ecff;transform:scaleX(0.9225);-webkit-text-stroke:0.1px #d8ecff;">FINANCEIRA</div>
<div class="t" style="left:874.00px;top:149.26px;font-size:8.95px;font-weight:normal;color:#2e2e2e;transform:scaleX(0.8116);-webkit-text-stroke:0.15px #2e2e2e;">CLIENTES</div>
<div class="t" style="left:872.96px;top:160.08px;font-size:8.81px;font-weight:normal;color:#2e2e2e;transform:scaleX(0.8424);-webkit-text-stroke:0.15px #2e2e2e;">PROCESSOS</div>
<div class="t" style="left:874.00px;top:169.30px;font-size:8.95px;font-weight:normal;color:#2e2e2e;transform:scaleX(0.8515);-webkit-text-stroke:0.15px #2e2e2e;">APRENDIZADO</div>
<svg width="20" height="50" style="left:930px;top:135px" viewBox="930 135 20 50"><polyline points="935.2,145.2 937.8,142.6 940.4,145.2" fill="none" stroke="#404040" stroke-width="1.2"/><polyline points="935.2,171.5 937.8,174.1 940.4,171.5" fill="none" stroke="#404040" stroke-width="1.2"/></svg>
<div class="t" style="left:876.75px;top:186.95px;font-size:8.25px;font-weight:bold;color:#262626;transform:scaleX(0.9870);-webkit-text-stroke:0.3px #262626;">SELECIONE INDICADOR</div>
<div class="a" style="left:869.2px;top:199.8px;width:113.8px;height:71.2px;background:#fff;box-sizing:border-box;border-top:1px solid #555;border-left:1px solid #555;border-right:1px solid #e0e0e0;border-bottom:1px solid #e0e0e0"></div>
<div class="a" style="left:972.00px;top:200.80px;width:10.00px;height:69.20px;background:#eeeeee;"></div>
<svg width="20" height="80" style="left:970px;top:198px" viewBox="970 198 20 80"><polyline points="974.6,208.2 977.2,205.6 979.8,208.2" fill="none" stroke="#404040" stroke-width="1.2"/><polyline points="974.6,263 977.2,265.6 979.8,263" fill="none" stroke="#404040" stroke-width="1.2"/></svg>
<div class="t" style="left:872.48px;top:202.76px;font-size:8.95px;font-weight:normal;color:#2e2e2e;transform:scaleX(0.8536);-webkit-text-stroke:0.15px #2e2e2e;">FAT MERC MONT</div>
<div class="t" style="left:872.49px;top:212.34px;font-size:8.95px;font-weight:normal;color:#2e2e2e;transform:scaleX(0.8536);-webkit-text-stroke:0.15px #2e2e2e;">FAT MERC REPOSIÇÃO</div>
<div class="t" style="left:872.47px;top:222.30px;font-size:8.95px;font-weight:normal;color:#2e2e2e;transform:scaleX(0.8886);-webkit-text-stroke:0.15px #2e2e2e;">FAT TOTAL</div>
<div class="t" style="left:872.48px;top:232.72px;font-size:8.95px;font-weight:normal;color:#2e2e2e;transform:scaleX(0.8792);-webkit-text-stroke:0.15px #2e2e2e;">LUCRO LÍQUIDO</div>
<div class="t" style="left:872.47px;top:242.80px;font-size:8.95px;font-weight:normal;color:#2e2e2e;transform:scaleX(0.8586);-webkit-text-stroke:0.15px #2e2e2e;">LEAD TIME</div>
<div class="a" style="left:875.8px;top:278.6px;width:102.8px;height:20.8px;background:#ececec;box-sizing:border-box;border-top:1px solid #fafafa;border-left:1px solid #fafafa;border-right:1.5px solid #6a6a6a;border-bottom:1.5px solid #6a6a6a"></div>
<div class="t" style="left:895.72px;top:286.32px;font-size:6.85px;font-weight:normal;color:#333333;transform:scaleX(0.9466);">REGISTRAR DADOS</div>
<div class="a" style="left:866.3px;top:317.3px;width:123.7px;height:17.30000000000001px;background:#4677b6;border-radius:3px;box-shadow:1.5px 2px 2px rgba(0,0,0,0.3);"></div>
<div class="t" style="left:891.74px;top:323.49px;font-size:8.25px;font-weight:bold;color:#f0f4fa;transform:scaleX(0.9831);-webkit-text-stroke:0.3px #f0f4fa;">PLANOS DE AÇÃO</div>
<div class="a" style="left:866.3px;top:343.7px;width:123.7px;height:16.900000000000034px;background:#4677b6;border-radius:3px;box-shadow:1.5px 2px 2px rgba(0,0,0,0.3);"></div>
<div class="t" style="left:901.75px;top:348.97px;font-size:8.11px;font-weight:bold;color:#f0f4fa;transform:scaleX(0.9499);-webkit-text-stroke:0.3px #f0f4fa;">GESTÃO  PA's</div>
<div class="a" style="left:866.3px;top:370px;width:123.7px;height:17px;background:#4677b6;border-radius:3px;box-shadow:1.5px 2px 2px rgba(0,0,0,0.3);"></div>
<div class="t" style="left:877.75px;top:374.67px;font-size:8.53px;font-weight:bold;color:#f0f4fa;transform:scaleX(1.0176);-webkit-text-stroke:0.3px #f0f4fa;">MONITORAMENTO  PA's</div>
<svg width="180" height="130" style="left:840px;top:400px" viewBox="840 400 180 130"><polygon points="924.5,448.45 936.15,460.1 924.5,471.75 912.85,460.1" fill="none" stroke="#ababab" stroke-width="0.9"/><polygon points="924.5,436.80 947.80,460.1 924.5,483.40 901.20,460.1" fill="none" stroke="#ababab" stroke-width="0.9"/><polygon points="924.5,425.15 959.45,460.1 924.5,495.05 889.55,460.1" fill="none" stroke="#ababab" stroke-width="0.9"/><polygon points="924.5,413.50 971.10,460.1 924.5,506.70 877.90,460.1" fill="none" stroke="#ababab" stroke-width="0.9"/><line x1="924.5" y1="413.5" x2="924.5" y2="506.70000000000005" stroke="#ababab" stroke-width="0.9"/><line x1="877.9" y1="460.1" x2="971.1" y2="460.1" stroke="#ababab" stroke-width="0.9"/><polygon points="924.5,449.2 956.2,460.1 924.5,499.2 924.5,460.1" fill="rgba(210,60,60,0.45)" stroke="#c00000" stroke-width="2" stroke-linejoin="miter"/></svg>
<div class="t" style="left:903.23px;top:403.20px;font-size:6.85px;font-weight:bold;color:#262626;transform:scaleX(0.9948);-webkit-text-stroke:0.3px #262626;">FINANCEIRO</div>
<div class="t" style="left:903.25px;top:410.88px;font-size:6.57px;font-weight:normal;color:#333333;transform:scaleX(1.0613);">80%</div>
<div class="t" style="left:903.24px;top:422.32px;font-size:6.85px;font-weight:normal;color:#333333;transform:scaleX(1.0308);">60%</div>
<div class="t" style="left:903.24px;top:434.32px;font-size:6.85px;font-weight:normal;color:#333333;transform:scaleX(1.0308);">40%</div>
<div class="t" style="left:903.24px;top:446.32px;font-size:6.85px;font-weight:normal;color:#333333;transform:scaleX(1.0308);">20%</div>
<div class="t" style="left:906.75px;top:458.32px;font-size:6.85px;font-weight:normal;color:#333333;transform:scaleX(0.9820);">0%</div>
<div class="t" style="left:845.75px;top:458.20px;font-size:6.85px;font-weight:bold;color:#262626;transform:scaleX(0.8949);-webkit-text-stroke:0.3px #262626;">PESSOAS</div>
<div class="t" style="left:974.25px;top:458.20px;font-size:6.85px;font-weight:bold;color:#262626;transform:scaleX(0.9048);-webkit-text-stroke:0.3px #262626;">CLIENTES</div>
<div class="t" style="left:904.74px;top:511.68px;font-size:7.13px;font-weight:bold;color:#262626;transform:scaleX(0.8707);-webkit-text-stroke:0.3px #262626;">PROCESSOS</div>
<svg width="209.4" height="112.0" style="left:622.6px;top:415px" viewBox="622.6 415 209.4 112.0"><rect x="622.6" y="415" width="209.4" height="112.0" fill="#ffffff"/><text x="624.6" y="423.6" font-size="2.6" font-weight="bold" fill="#1f3f7a" font-family="Liberation Sans">BOSCH  4-8</text><text x="806.5" y="425.8" font-size="1.8" fill="#8a8a8a" font-family="Liberation Sans">Atualizado 27/11/2016</text><polygon points="625,426.6 634,426.6 631.5,433 624.6,433" fill="#c5d9f1"/><text x="636.7" y="432" font-size="4.2" font-weight="bold" font-style="italic" fill="#1a1a1a" font-family="Liberation Sans" textLength="9" lengthAdjust="spacingAndGlyphs">LOGO</text><polygon points="651,426.6 829.7,426.6 829.7,433 648.8,433" fill="#c6d9f0"/><text x="657.7" y="432.2" font-size="5" font-weight="bold" fill="#1f2f50" font-family="Liberation Sans" textLength="100.5" lengthAdjust="spacingAndGlyphs">IC - FATURAMENTO MERCADO MONTADORAS</text><text x="777" y="432.2" font-size="5" font-weight="bold" fill="#1f2f50" font-family="Liberation Sans" textLength="20" lengthAdjust="spacingAndGlyphs">ANO 2016</text><rect x="813" y="427.9" width="15.4" height="3.8" fill="#4f81bd"/><rect x="776" y="433" width="13.5" height="3" fill="#0a0a0a"/><rect x="624.6" y="436" width="20.4" height="3.6" fill="#0a0a0a"/><rect x="645" y="436" width="10.6" height="3.6" fill="#d08080"/><rect x="655.6" y="436" width="174.1" height="3.6" fill="#1f3864"/><text x="628" y="438.6" font-size="1.9" fill="#ffffff" font-family="Liberation Sans">CATEGORIA</text><text x="646.5" y="438.6" font-size="1.9" fill="#ffffff" font-family="Liberation Sans">META</text><text x="660.6" y="438.6" font-size="1.9" fill="#ffffff" font-family="Liberation Sans">JAN</text><text x="675.1" y="438.6" font-size="1.9" fill="#ffffff" font-family="Liberation Sans">FEV</text><text x="689.6" y="438.6" font-size="1.9" fill="#ffffff" font-family="Liberation Sans">MAR</text><text x="704.1" y="438.6" font-size="1.9" fill="#ffffff" font-family="Liberation Sans">ABR</text><text x="718.6" y="438.6" font-size="1.9" fill="#ffffff" font-family="Liberation Sans">MAI</text><text x="733.1" y="438.6" font-size="1.9" fill="#ffffff" font-family="Liberation Sans">JUN</text><text x="747.6" y="438.6" font-size="1.9" fill="#ffffff" font-family="Liberation Sans">JUL</text><text x="762.1" y="438.6" font-size="1.9" fill="#ffffff" font-family="Liberation Sans">AGO</text><text x="776.6" y="438.6" font-size="1.9" fill="#ffffff" font-family="Liberation Sans">SET</text><text x="791.1" y="438.6" font-size="1.9" fill="#ffffff" font-family="Liberation Sans">OUT</text><text x="805.6" y="438.6" font-size="1.9" fill="#ffffff" font-family="Liberation Sans">NOV</text><text x="820.1" y="438.6" font-size="1.9" fill="#ffffff" font-family="Liberation Sans">DEZ</text><text x="834.6" y="438.6" font-size="1.9" fill="#ffffff" font-family="Liberation Sans">ACUM</text><rect x="624.6" y="441" width="20.4" height="3.2" fill="#4f81bd"/><rect x="645" y="441" width="10.6" height="3.2" fill="#5a8ac6"/><rect x="655.6" y="441" width="160.7" height="3.2" fill="#f4f6fa"/><rect x="816.3" y="441" width="13.4" height="3.2" fill="#1f3864"/><rect x="624.6" y="444.2" width="31" height="3" fill="#8db3e2"/><rect x="655.6" y="444.2" width="174.1" height="3" fill="#b0c4e2"/><rect x="624.6" y="447.2" width="20.4" height="3.6" fill="#00a050"/><rect x="645" y="447.2" width="10.6" height="3.6" fill="#e02020"/><rect x="655.6" y="447.2" width="174.1" height="3.6" fill="#dbe6c4"/><text x="626" y="443.5" font-size="1.8" fill="#e8eef8" font-family="Liberation Sans">Fat. Mercado</text><text x="626" y="446.6" font-size="1.8" fill="#f0f4fa" font-family="Liberation Sans">Meta Mercado</text><text x="626" y="450.2" font-size="1.8" fill="#e8f8ee" font-family="Liberation Sans">Real x Meta</text><text x="646" y="443.5" font-size="1.8" fill="#e8eef8" font-family="Liberation Sans">96,000</text><text x="646" y="450.2" font-size="1.8" fill="#ffe8e8" font-family="Liberation Sans">95.2%</text><text x="660.1" y="443.5" font-size="2.6" font-weight="bold" fill="#707070" font-family="Liberation Sans">56,847</text><text x="660.1" y="446.6" font-size="2.6" font-weight="bold" fill="#5a6a88" font-family="Liberation Sans">51,204</text><text x="661.1" y="450.1" font-size="2.6" font-weight="bold" fill="#c06010" font-family="Liberation Sans">90.1%</text><text x="674.6" y="443.5" font-size="2.6" font-weight="bold" fill="#707070" font-family="Liberation Sans">58,901</text><text x="674.6" y="446.6" font-size="2.6" font-weight="bold" fill="#5a6a88" font-family="Liberation Sans">55,148</text><text x="675.6" y="450.1" font-size="2.6" font-weight="bold" fill="#c06010" font-family="Liberation Sans">93.6%</text><text x="689.1" y="443.5" font-size="2.6" font-weight="bold" fill="#707070" font-family="Liberation Sans">62,377</text><text x="689.1" y="446.6" font-size="2.6" font-weight="bold" fill="#5a6a88" font-family="Liberation Sans">60,990</text><text x="690.1" y="450.1" font-size="2.6" font-weight="bold" fill="#c06010" font-family="Liberation Sans">97.8%</text><text x="703.6" y="443.5" font-size="2.6" font-weight="bold" fill="#707070" font-family="Liberation Sans">59,837</text><text x="703.6" y="446.6" font-size="2.6" font-weight="bold" fill="#5a6a88" font-family="Liberation Sans">63,402</text><text x="704.6" y="450.1" font-size="2.6" font-weight="bold" fill="#c06010" font-family="Liberation Sans">106%</text><text x="718.1" y="443.5" font-size="2.6" font-weight="bold" fill="#707070" font-family="Liberation Sans">60,588</text><text x="718.1" y="446.6" font-size="2.6" font-weight="bold" fill="#5a6a88" font-family="Liberation Sans">65,801</text><text x="719.1" y="450.1" font-size="2.6" font-weight="bold" fill="#5a6a30" font-family="Liberation Sans">108%</text><text x="732.6" y="443.5" font-size="2.6" font-weight="bold" fill="#707070" font-family="Liberation Sans">61,203</text><text x="732.6" y="446.6" font-size="2.6" font-weight="bold" fill="#5a6a88" font-family="Liberation Sans">70,115</text><text x="733.6" y="450.1" font-size="2.6" font-weight="bold" fill="#5a6a30" font-family="Liberation Sans">114%</text><text x="747.1" y="443.5" font-size="2.6" font-weight="bold" fill="#707070" font-family="Liberation Sans">63,719</text><text x="747.1" y="446.6" font-size="2.6" font-weight="bold" fill="#5a6a88" font-family="Liberation Sans">74,300</text><text x="748.1" y="450.1" font-size="2.6" font-weight="bold" fill="#5a6a30" font-family="Liberation Sans">116%</text><text x="761.6" y="443.5" font-size="2.6" font-weight="bold" fill="#707070" font-family="Liberation Sans">62,058</text><text x="761.6" y="446.6" font-size="2.6" font-weight="bold" fill="#5a6a88" font-family="Liberation Sans">79,021</text><text x="762.6" y="450.1" font-size="2.6" font-weight="bold" fill="#5a6a30" font-family="Liberation Sans">127%</text><text x="776.1" y="443.5" font-size="2.6" font-weight="bold" fill="#707070" font-family="Liberation Sans">61,547</text><text x="776.1" y="446.6" font-size="2.6" font-weight="bold" fill="#5a6a88" font-family="Liberation Sans">82,446</text><text x="777.1" y="450.1" font-size="2.6" font-weight="bold" fill="#5a6a30" font-family="Liberation Sans">133%</text><text x="790.6" y="443.5" font-size="2.6" font-weight="bold" fill="#707070" font-family="Liberation Sans">60,922</text><text x="790.6" y="446.6" font-size="2.6" font-weight="bold" fill="#5a6a88" font-family="Liberation Sans">85,207</text><text x="791.6" y="450.1" font-size="2.6" font-weight="bold" fill="#5a6a30" font-family="Liberation Sans">139%</text><text x="818" y="443.5" font-size="1.8" fill="#e8eef8" font-family="Liberation Sans">607,000</text><text x="818" y="446.6" font-size="1.8" fill="#4a5a78" font-family="Liberation Sans">672,834</text><text x="819" y="450.1" font-size="1.8" fill="#5a6a30" font-family="Liberation Sans">110.8%</text><line x1="670.1" y1="441" x2="670.1" y2="450.8" stroke="#9aaac0" stroke-width="0.3"/><line x1="684.6" y1="441" x2="684.6" y2="450.8" stroke="#9aaac0" stroke-width="0.3"/><line x1="699.1" y1="441" x2="699.1" y2="450.8" stroke="#9aaac0" stroke-width="0.3"/><line x1="713.6" y1="441" x2="713.6" y2="450.8" stroke="#9aaac0" stroke-width="0.3"/><line x1="728.1" y1="441" x2="728.1" y2="450.8" stroke="#9aaac0" stroke-width="0.3"/><line x1="742.6" y1="441" x2="742.6" y2="450.8" stroke="#9aaac0" stroke-width="0.3"/><line x1="757.1" y1="441" x2="757.1" y2="450.8" stroke="#9aaac0" stroke-width="0.3"/><line x1="771.6" y1="441" x2="771.6" y2="450.8" stroke="#9aaac0" stroke-width="0.3"/><line x1="786.1" y1="441" x2="786.1" y2="450.8" stroke="#9aaac0" stroke-width="0.3"/><line x1="800.6" y1="441" x2="800.6" y2="450.8" stroke="#9aaac0" stroke-width="0.3"/><line x1="815.1" y1="441" x2="815.1" y2="450.8" stroke="#9aaac0" stroke-width="0.3"/><rect x="624.6" y="454" width="20.4" height="3.2" fill="#4f81bd"/><rect x="645" y="454" width="10.6" height="3.2" fill="#5a8ac6"/><rect x="655.6" y="454" width="160.7" height="3.2" fill="#f4f6fa"/><rect x="816.3" y="454" width="13.4" height="3.2" fill="#1f3864"/><rect x="624.6" y="457.2" width="31" height="3" fill="#8db3e2"/><rect x="655.6" y="457.2" width="174.1" height="3" fill="#b0c4e2"/><rect x="624.6" y="460.2" width="20.4" height="3.6" fill="#00a050"/><rect x="645" y="460.2" width="10.6" height="3.6" fill="#e02020"/><rect x="655.6" y="460.2" width="174.1" height="3.6" fill="#dbe6c4"/><text x="626" y="456.5" font-size="1.8" fill="#e8eef8" font-family="Liberation Sans">Fat. Mercado</text><text x="626" y="459.6" font-size="1.8" fill="#f0f4fa" font-family="Liberation Sans">Meta Mercado</text><text x="626" y="463.2" font-size="1.8" fill="#e8f8ee" font-family="Liberation Sans">Real x Meta</text><text x="646" y="456.5" font-size="1.8" fill="#e8eef8" font-family="Liberation Sans">96,000</text><text x="646" y="463.2" font-size="1.8" fill="#ffe8e8" font-family="Liberation Sans">95.2%</text><text x="660.1" y="456.5" font-size="2.6" font-weight="bold" fill="#707070" font-family="Liberation Sans">56,847</text><text x="660.1" y="459.6" font-size="2.6" font-weight="bold" fill="#5a6a88" font-family="Liberation Sans">51,204</text><text x="661.1" y="463.1" font-size="2.6" font-weight="bold" fill="#c06010" font-family="Liberation Sans">90.1%</text><text x="674.6" y="456.5" font-size="2.6" font-weight="bold" fill="#707070" font-family="Liberation Sans">58,901</text><text x="674.6" y="459.6" font-size="2.6" font-weight="bold" fill="#5a6a88" font-family="Liberation Sans">55,148</text><text x="675.6" y="463.1" font-size="2.6" font-weight="bold" fill="#c06010" font-family="Liberation Sans">93.6%</text><text x="689.1" y="456.5" font-size="2.6" font-weight="bold" fill="#707070" font-family="Liberation Sans">62,377</text><text x="689.1" y="459.6" font-size="2.6" font-weight="bold" fill="#5a6a88" font-family="Liberation Sans">60,990</text><text x="690.1" y="463.1" font-size="2.6" font-weight="bold" fill="#c06010" font-family="Liberation Sans">97.8%</text><text x="703.6" y="456.5" font-size="2.6" font-weight="bold" fill="#707070" font-family="Liberation Sans">59,837</text><text x="703.6" y="459.6" font-size="2.6" font-weight="bold" fill="#5a6a88" font-family="Liberation Sans">63,402</text><text x="704.6" y="463.1" font-size="2.6" font-weight="bold" fill="#c06010" font-family="Liberation Sans">106%</text><text x="718.1" y="456.5" font-size="2.6" font-weight="bold" fill="#707070" font-family="Liberation Sans">60,588</text><text x="718.1" y="459.6" font-size="2.6" font-weight="bold" fill="#5a6a88" font-family="Liberation Sans">65,801</text><text x="719.1" y="463.1" font-size="2.6" font-weight="bold" fill="#5a6a30" font-family="Liberation Sans">108%</text><text x="732.6" y="456.5" font-size="2.6" font-weight="bold" fill="#707070" font-family="Liberation Sans">61,203</text><text x="732.6" y="459.6" font-size="2.6" font-weight="bold" fill="#5a6a88" font-family="Liberation Sans">70,115</text><text x="733.6" y="463.1" font-size="2.6" font-weight="bold" fill="#5a6a30" font-family="Liberation Sans">114%</text><text x="747.1" y="456.5" font-size="2.6" font-weight="bold" fill="#707070" font-family="Liberation Sans">63,719</text><text x="747.1" y="459.6" font-size="2.6" font-weight="bold" fill="#5a6a88" font-family="Liberation Sans">74,300</text><text x="748.1" y="463.1" font-size="2.6" font-weight="bold" fill="#5a6a30" font-family="Liberation Sans">116%</text><text x="761.6" y="456.5" font-size="2.6" font-weight="bold" fill="#707070" font-family="Liberation Sans">62,058</text><text x="761.6" y="459.6" font-size="2.6" font-weight="bold" fill="#5a6a88" font-family="Liberation Sans">79,021</text><text x="762.6" y="463.1" font-size="2.6" font-weight="bold" fill="#5a6a30" font-family="Liberation Sans">127%</text><text x="776.1" y="456.5" font-size="2.6" font-weight="bold" fill="#707070" font-family="Liberation Sans">61,547</text><text x="776.1" y="459.6" font-size="2.6" font-weight="bold" fill="#5a6a88" font-family="Liberation Sans">82,446</text><text x="777.1" y="463.1" font-size="2.6" font-weight="bold" fill="#5a6a30" font-family="Liberation Sans">133%</text><text x="790.6" y="456.5" font-size="2.6" font-weight="bold" fill="#707070" font-family="Liberation Sans">60,922</text><text x="790.6" y="459.6" font-size="2.6" font-weight="bold" fill="#5a6a88" font-family="Liberation Sans">85,207</text><text x="791.6" y="463.1" font-size="2.6" font-weight="bold" fill="#5a6a30" font-family="Liberation Sans">139%</text><text x="818" y="456.5" font-size="1.8" fill="#e8eef8" font-family="Liberation Sans">607,000</text><text x="818" y="459.6" font-size="1.8" fill="#4a5a78" font-family="Liberation Sans">672,834</text><text x="819" y="463.1" font-size="1.8" fill="#5a6a30" font-family="Liberation Sans">110.8%</text><line x1="670.1" y1="454" x2="670.1" y2="463.8" stroke="#9aaac0" stroke-width="0.3"/><line x1="684.6" y1="454" x2="684.6" y2="463.8" stroke="#9aaac0" stroke-width="0.3"/><line x1="699.1" y1="454" x2="699.1" y2="463.8" stroke="#9aaac0" stroke-width="0.3"/><line x1="713.6" y1="454" x2="713.6" y2="463.8" stroke="#9aaac0" stroke-width="0.3"/><line x1="728.1" y1="454" x2="728.1" y2="463.8" stroke="#9aaac0" stroke-width="0.3"/><line x1="742.6" y1="454" x2="742.6" y2="463.8" stroke="#9aaac0" stroke-width="0.3"/><line x1="757.1" y1="454" x2="757.1" y2="463.8" stroke="#9aaac0" stroke-width="0.3"/><line x1="771.6" y1="454" x2="771.6" y2="463.8" stroke="#9aaac0" stroke-width="0.3"/><line x1="786.1" y1="454" x2="786.1" y2="463.8" stroke="#9aaac0" stroke-width="0.3"/><line x1="800.6" y1="454" x2="800.6" y2="463.8" stroke="#9aaac0" stroke-width="0.3"/><line x1="815.1" y1="454" x2="815.1" y2="463.8" stroke="#9aaac0" stroke-width="0.3"/><rect x="775.8" y="440.6" width="14" height="23.6" fill="none" stroke="#303030" stroke-width="0.4" stroke-dasharray="0.8,0.6"/><text x="627" y="469" font-size="2.2" font-weight="bold" fill="#303030" font-family="Liberation Sans">R$ Mil</text><line x1="637.9" y1="471.50" x2="785.7" y2="471.50" stroke="#d9d9d9" stroke-width="0.4"/><text x="627.5" y="472.20" font-size="2" fill="#505050" font-family="Liberation Sans">400,000</text><line x1="637.9" y1="476.48" x2="785.7" y2="476.48" stroke="#d9d9d9" stroke-width="0.4"/><text x="627.5" y="477.18" font-size="2" fill="#505050" font-family="Liberation Sans">350,000</text><line x1="637.9" y1="481.45" x2="785.7" y2="481.45" stroke="#d9d9d9" stroke-width="0.4"/><text x="627.5" y="482.15" font-size="2" fill="#505050" font-family="Liberation Sans">300,000</text><line x1="637.9" y1="486.43" x2="785.7" y2="486.43" stroke="#d9d9d9" stroke-width="0.4"/><text x="627.5" y="487.12" font-size="2" fill="#505050" font-family="Liberation Sans">250,000</text><line x1="637.9" y1="491.40" x2="785.7" y2="491.40" stroke="#d9d9d9" stroke-width="0.4"/><text x="627.5" y="492.10" font-size="2" fill="#505050" font-family="Liberation Sans">200,000</text><line x1="637.9" y1="496.38" x2="785.7" y2="496.38" stroke="#d9d9d9" stroke-width="0.4"/><text x="627.5" y="497.07" font-size="2" fill="#505050" font-family="Liberation Sans">150,000</text><line x1="637.9" y1="501.35" x2="785.7" y2="501.35" stroke="#d9d9d9" stroke-width="0.4"/><text x="627.5" y="502.05" font-size="2" fill="#505050" font-family="Liberation Sans">100,000</text><line x1="637.9" y1="506.32" x2="785.7" y2="506.32" stroke="#d9d9d9" stroke-width="0.4"/><text x="627.5" y="507.02" font-size="2" fill="#505050" font-family="Liberation Sans">50,000</text><line x1="637.9" y1="511.30" x2="785.7" y2="511.30" stroke="#d9d9d9" stroke-width="0.4"/><text x="627.5" y="512.00" font-size="2" fill="#505050" font-family="Liberation Sans">0,000</text><text x="787.5" y="468.4" font-size="1.8" fill="#505050" font-family="Liberation Sans">R$ Acumulado</text><text x="788" y="472.30" font-size="2" fill="#505050" font-family="Liberation Sans">100,000</text><text x="788" y="480.18" font-size="2" fill="#505050" font-family="Liberation Sans">80,000</text><text x="788" y="488.06" font-size="2" fill="#505050" font-family="Liberation Sans">60,000</text><text x="788" y="495.94" font-size="2" fill="#505050" font-family="Liberation Sans">40,000</text><text x="788" y="503.82" font-size="2" fill="#505050" font-family="Liberation Sans">20,000</text><text x="788" y="511.70" font-size="2" fill="#505050" font-family="Liberation Sans">00,000</text><polygon points="715,498.6 719,496.3 746.3,485.1 778.3,479.2 778.3,487.5 746.3,493.4 719,497.5" fill="#2fb0e0"/><rect x="639.00" y="503.4" width="5.3" height="7.50" fill="#c3d69b"/><rect x="645.00" y="501.1" width="5.3" height="9.80" fill="#4f81bd"/><text x="642.50" y="515.4" font-size="1.9" font-weight="bold" fill="#606060" font-family="Liberation Sans">jan</text><rect x="639.50" y="508.2" width="10" height="1.6" fill="#7a8a60" opacity="0.55"/><rect x="653.90" y="503.1" width="5.3" height="7.80" fill="#c3d69b"/><rect x="659.90" y="500.3" width="5.3" height="10.60" fill="#4f81bd"/><text x="657.40" y="515.4" font-size="1.9" font-weight="bold" fill="#606060" font-family="Liberation Sans">fev</text><rect x="654.40" y="508.2" width="10" height="1.6" fill="#7a8a60" opacity="0.55"/><rect x="668.80" y="502.1" width="5.3" height="8.80" fill="#c3d69b"/><rect x="674.80" y="497.6" width="5.3" height="13.30" fill="#4f81bd"/><text x="672.30" y="515.4" font-size="1.9" font-weight="bold" fill="#606060" font-family="Liberation Sans">mar</text><rect x="669.30" y="508.2" width="10" height="1.6" fill="#7a8a60" opacity="0.55"/><rect x="683.70" y="504.6" width="5.3" height="6.30" fill="#c3d69b"/><rect x="689.70" y="496.4" width="5.3" height="14.50" fill="#4f81bd"/><text x="687.20" y="515.4" font-size="1.9" font-weight="bold" fill="#606060" font-family="Liberation Sans">abr</text><rect x="684.20" y="508.2" width="10" height="1.6" fill="#7a8a60" opacity="0.55"/><rect x="698.60" y="474.8" width="5.3" height="36.10" fill="#c3d69b"/><rect x="704.60" y="496.3" width="5.3" height="14.60" fill="#4f81bd"/><text x="702.10" y="515.4" font-size="1.9" font-weight="bold" fill="#606060" font-family="Liberation Sans">mai</text><rect x="699.10" y="508.2" width="10" height="1.6" fill="#7a8a60" opacity="0.55"/><rect x="713.50" y="485.1" width="5.3" height="25.80" fill="#c3d69b"/><rect x="719.50" y="497.5" width="5.3" height="13.40" fill="#4f81bd"/><text x="717.00" y="515.4" font-size="1.9" font-weight="bold" fill="#606060" font-family="Liberation Sans">jun</text><rect x="714.00" y="508.2" width="10" height="1.6" fill="#7a8a60" opacity="0.55"/><rect x="728.40" y="480" width="5.3" height="30.90" fill="#c3d69b"/><rect x="734.40" y="495.2" width="5.3" height="15.70" fill="#4f81bd"/><text x="731.90" y="515.4" font-size="1.9" font-weight="bold" fill="#606060" font-family="Liberation Sans">jul</text><rect x="728.90" y="508.2" width="10" height="1.6" fill="#7a8a60" opacity="0.55"/><rect x="743.30" y="475.6" width="5.3" height="35.30" fill="#c3d69b"/><rect x="749.30" y="494" width="5.3" height="16.90" fill="#4f81bd"/><text x="746.80" y="515.4" font-size="1.9" font-weight="bold" fill="#606060" font-family="Liberation Sans">ago</text><rect x="743.80" y="508.2" width="10" height="1.6" fill="#7a8a60" opacity="0.55"/><rect x="758.20" y="493.4" width="5.3" height="17.50" fill="#c3d69b"/><rect x="764.20" y="494" width="5.3" height="16.90" fill="#4f81bd"/><text x="761.70" y="515.4" font-size="1.9" font-weight="bold" fill="#606060" font-family="Liberation Sans">set</text><rect x="758.70" y="508.2" width="10" height="1.6" fill="#7a8a60" opacity="0.55"/><rect x="773.10" y="490.2" width="5.3" height="20.70" fill="#c3d69b"/><rect x="779.10" y="494" width="5.3" height="16.90" fill="#4f81bd"/><text x="776.60" y="515.4" font-size="1.9" font-weight="bold" fill="#606060" font-family="Liberation Sans">out</text><rect x="773.60" y="508.2" width="10" height="1.6" fill="#7a8a60" opacity="0.55"/><polyline points="645,509.7 680,505.8 700,501.5 719,497.5 746.3,493.4 778.3,487.5" fill="none" stroke="#1f3040" stroke-width="0.55"/><polyline points="645,509.5 665,507 680,505 700,501 719,496.3 746.3,485.1 778.3,479.2" fill="none" stroke="#204060" stroke-width="0.5"/><polyline points="664,507.2 672,505.2 678,506.6" fill="none" stroke="#c03030" stroke-width="0.8"/><rect x="780.4" y="482" width="9.6" height="2.6" fill="#1f3864"/><line x1="785.7" y1="471.5" x2="785.7" y2="511" stroke="#d0d0d0" stroke-width="0.3"/><rect x="667" y="519.6" width="3" height="1" fill="#c3d69b"/><rect x="671" y="519.6" width="14" height="1" fill="#c8c8c8"/><rect x="689" y="519.6" width="3" height="1" fill="#4f81bd"/><rect x="693" y="519.6" width="14" height="1" fill="#c8c8c8"/><rect x="712" y="519.6" width="3" height="1" fill="#4a6a30"/><rect x="716" y="519.6" width="14" height="1" fill="#c8c8c8"/><rect x="740" y="519.6" width="3" height="1" fill="#1f3040"/><rect x="744" y="519.6" width="14" height="1" fill="#c8c8c8"/><text x="803" y="473.2" font-size="2.1" font-weight="bold" fill="#404040" font-family="Liberation Sans" textLength="27.5" lengthAdjust="spacingAndGlyphs">MEDIA ACUMULADA REALIZADA</text><rect x="806" y="476" width="16" height="1.3" fill="#9aa6c0"/><rect x="812" y="476.6" width="9" height="0.9" fill="#606a80"/><text x="804.5" y="479.8" font-size="1.6" fill="#707070" font-family="Liberation Sans" textLength="25" lengthAdjust="spacingAndGlyphs">0%  20%  40%  60%  80%</text><rect x="806" y="484.2" width="16" height="1.3" fill="#9aa6c0"/><rect x="812" y="484.8" width="9" height="0.9" fill="#606a80"/><text x="804.5" y="488.0" font-size="1.6" fill="#707070" font-family="Liberation Sans" textLength="25" lengthAdjust="spacingAndGlyphs">0%  20%  40%  60%  80%</text><line x1="803" y1="492.9" x2="830" y2="492.9" stroke="#d8d8d8" stroke-width="0.5"/><rect x="806.5" y="498.4" width="18" height="1" fill="#c0c8e0"/><rect x="809" y="499.2" width="6" height="1.4" fill="#c84050"/><rect x="815" y="499.2" width="9" height="1.4" fill="#5070b0"/><text x="804.5" y="503.4" font-size="1.6" fill="#707070" font-family="Liberation Sans" textLength="25" lengthAdjust="spacingAndGlyphs">-40%  -20%  0%  20%  40%</text><rect x="806.5" y="508.3" width="18" height="1" fill="#c0c8e0"/><rect x="809" y="509.1" width="6" height="1.4" fill="#c84050"/><rect x="815" y="509.1" width="9" height="1.4" fill="#5070b0"/><text x="804.5" y="513.3" font-size="1.6" fill="#707070" font-family="Liberation Sans" textLength="25" lengthAdjust="spacingAndGlyphs">-40%  -20%  0%  20%  40%</text><text x="803" y="522" font-size="2.1" font-weight="bold" fill="#404040" font-family="Liberation Sans" textLength="26" lengthAdjust="spacingAndGlyphs">REAL - META MENSAL</text></svg>
</body></html>
